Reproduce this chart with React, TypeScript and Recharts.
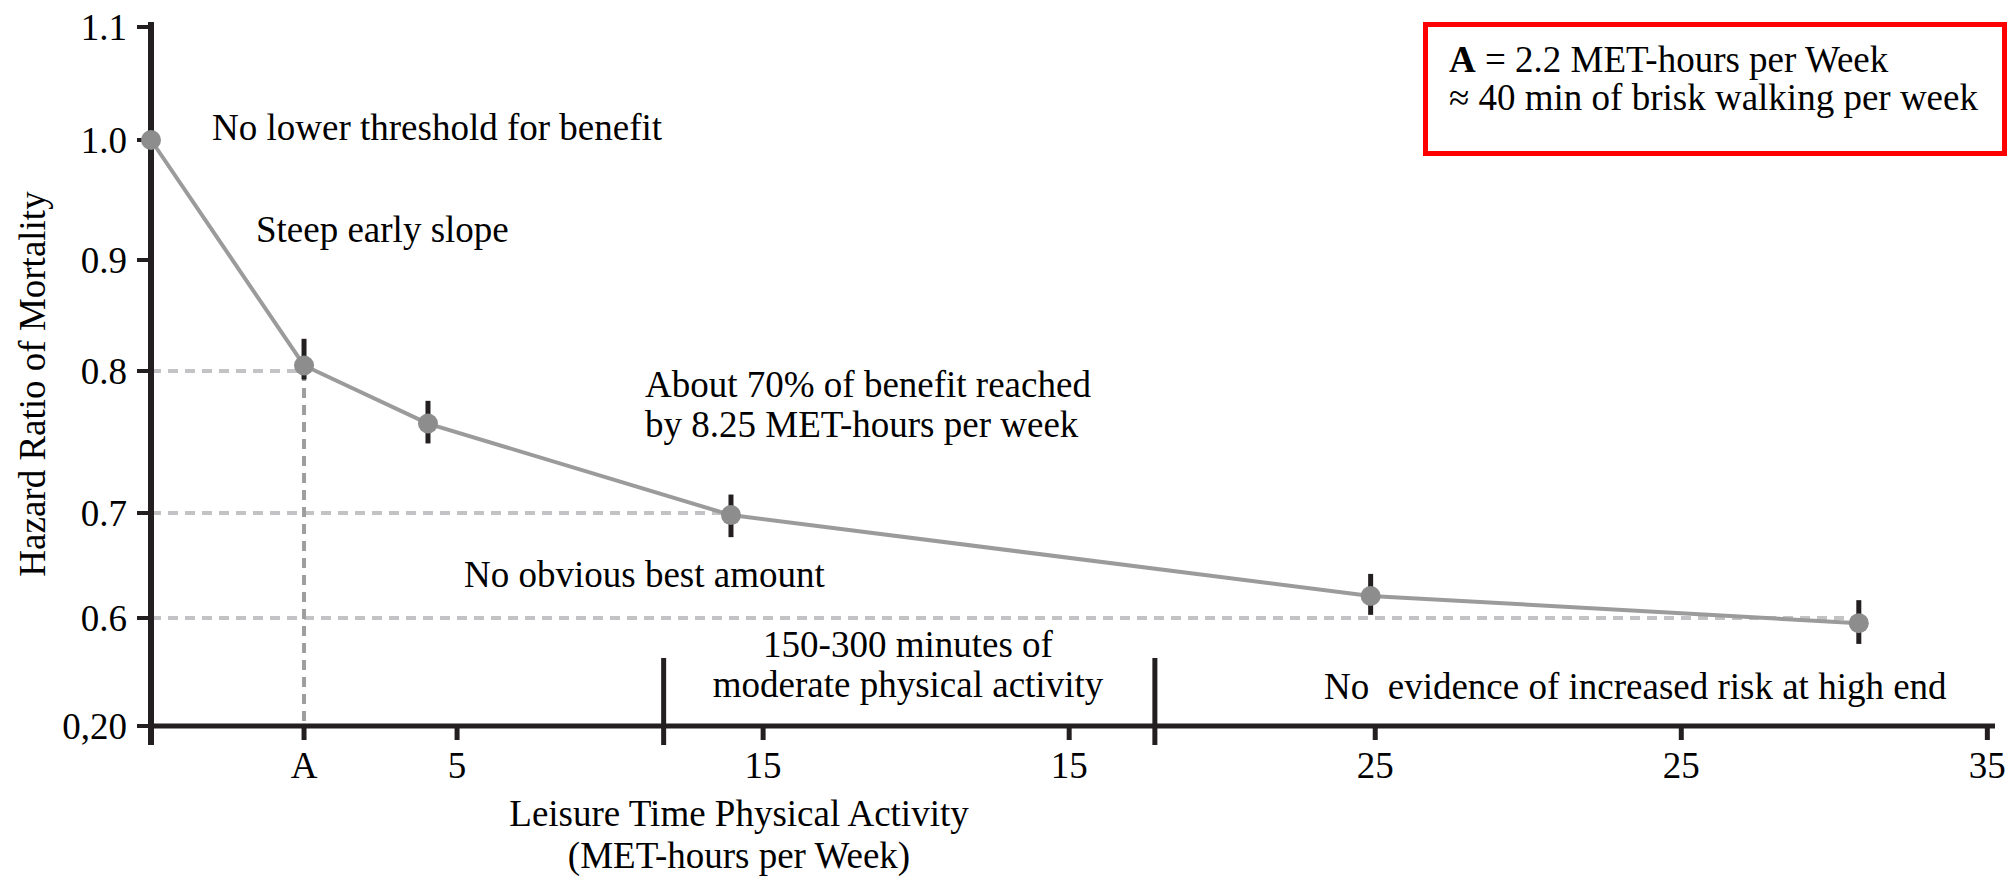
import React from "react";
import { LineChart, Line, XAxis, YAxis, ReferenceLine, ErrorBar } from "recharts";

// x axis: activity bins drawn on evenly spaced slots
const slotTicks = [0, 1, 2, 4, 6, 8, 10, 12];
const slotLabels = ["", "A", "5", "15", "15", "25", "25", "35"];

// y axis: hazard ratio ticks (axis is broken below 0.6)
const hrTicks = [0.2, 0.6, 0.7, 0.8, 0.9, 1.0, 1.1];
const hrTickLabels = ["0,20", "0.6", "0.7", "0.8", "0.9", "1.0", "1.1"];

// series
const activitySlot = [0, 1, 1.81, 3.79, 7.97, 11.16];
const hazardRatio = [1.0, 0.805, 0.763, 0.698, 0.621, 0.581];
const ciLower = [1.0, 0.794, 0.749, 0.677, 0.603, 0.504];
const ciUpper = [1.0, 0.829, 0.779, 0.713, 0.642, 0.617];

// dashed guides: level -> point they run to
const guideLevels = [0.8, 0.7, 0.6];
const guidePoint = [1, 3, 5];
// 150-300 minutes band edges (in slots)
const bandEdges = [3.35, 6.56];

// axis layout (spacing of the hand-drawn y ticks, px from the x axis)
const HR_TICK_OFFSETS = [0, 108, 213, 355, 466, 586, 699];
const HR_AXIS_MAX = 704;
const TICK_DROP = -19;
const BAND_TOP = 68;

const FONT = "'Liberation Serif', 'Times New Roman', serif";
const INK = "#231f20";

function toAxis(hr: number): number {
  let i = 0;
  while (i < hrTicks.length - 2 && hr > hrTicks[i + 1]) i++;
  const t = (hr - hrTicks[i]) / (hrTicks[i + 1] - hrTicks[i]);
  return HR_TICK_OFFSETS[i] + t * (HR_TICK_OFFSETS[i + 1] - HR_TICK_OFFSETS[i]);
}

const data = activitySlot.map((slot, i) => {
  const y = toAxis(hazardRatio[i]);
  return {
    slot,
    y,
    err: [y - toAxis(ciLower[i]), toAxis(ciUpper[i]) - y],
  };
});

const yTickValues = hrTicks.map(toAxis);

const xLabel = (v: number) => slotLabels[slotTicks.indexOf(v)] ?? "";
const yLabel = (v: number) => {
  const i = yTickValues.findIndex((t) => Math.abs(t - v) < 0.01);
  return i >= 0 ? hrTickLabels[i] : "";
};

const textStyle = { fontFamily: FONT, fontSize: 37, fill: "#000" };

export default function App() {
  return (
    <div
      style={{
        position: "absolute",
        left: 0,
        top: 0,
        width: 2010,
        height: 886,
        background: "#fff",
      }}
    >
      <LineChart
        width={2010}
        height={886}
        data={data}
        margin={{ top: 22, right: 15, bottom: 0, left: 0 }}
      >
        <XAxis
          dataKey="slot"
          type="number"
          domain={[0, 12.05]}
          ticks={slotTicks}
          interval={0}
          tickFormatter={xLabel}
          height={160}
          axisLine={{ stroke: INK, strokeWidth: 5 }}
          tickLine={{ stroke: INK, strokeWidth: 5 }}
          tickSize={14}
          tickMargin={12}
          tick={{ fontFamily: FONT, fontSize: 37, fill: "#000" }}
        />
        <YAxis
          type="number"
          domain={[0, HR_AXIS_MAX]}
          ticks={yTickValues}
          interval={0}
          tickFormatter={yLabel}
          width={151}
          axisLine={{ stroke: INK, strokeWidth: 6 }}
          tickLine={{ stroke: INK, strokeWidth: 4 }}
          tickSize={14}
          tickMargin={10}
          tick={{ fontFamily: FONT, fontSize: 37, fill: "#000" }}
        />

        {guideLevels.map((lvl, k) => (
          <ReferenceLine
            key={"h" + k}
            segment={[
              { x: 0, y: toAxis(lvl) },
              { x: activitySlot[guidePoint[k]], y: toAxis(lvl) },
            ]}
            stroke="#c3c3c5"
            strokeWidth={4}
            strokeDasharray="10 7"
            ifOverflow="visible"
          />
        ))}
        <ReferenceLine
          segment={[
            { x: activitySlot[1], y: toAxis(guideLevels[0]) },
            { x: activitySlot[1], y: TICK_DROP },
          ]}
          stroke="#9e9e9e"
          strokeWidth={4}
          strokeDasharray="10 7"
          ifOverflow="visible"
        />
        {/* y axis runs on past the x axis */}
        <ReferenceLine
          segment={[
            { x: 0, y: 0 },
            { x: 0, y: TICK_DROP },
          ]}
          stroke={INK}
          strokeWidth={6}
          ifOverflow="visible"
        />
        {bandEdges.map((x, k) => (
          <ReferenceLine
            key={"b" + k}
            segment={[
              { x, y: BAND_TOP },
              { x, y: TICK_DROP },
            ]}
            stroke={INK}
            strokeWidth={5}
            ifOverflow="visible"
          />
        ))}

        <Line
          type="linear"
          dataKey="y"
          stroke="#9b9b9b"
          strokeWidth={4}
          dot={{ r: 10, fill: "#8d8d8d", stroke: "none" }}
          activeDot={false}
          isAnimationActive={false}
        >
          <ErrorBar
            dataKey="err"
            direction="y"
            width={0}
            stroke={INK}
            strokeWidth={5}
          />
        </Line>
      </LineChart>

      <svg
        width={2010}
        height={886}
        style={{ position: "absolute", left: 0, top: 0, pointerEvents: "none" }}
      >
        <text {...textStyle} x={212} y={140}>No lower threshold for benefit</text>
        <text {...textStyle} x={256} y={242}>Steep early slope</text>
        <text {...textStyle} x={645} y={397}>About 70% of benefit reached</text>
        <text {...textStyle} x={645} y={437}>by 8.25 MET-hours per week</text>
        <text {...textStyle} x={464} y={587}>No obvious best amount</text>
        <text {...textStyle} x={908} y={657} textAnchor="middle">150-300 minutes of</text>
        <text {...textStyle} x={908} y={697} textAnchor="middle">moderate physical activity</text>
        <text {...textStyle} x={1324} y={699} style={{ whiteSpace: "pre" }}>
          {"No  evidence of increased risk at high end"}
        </text>

        <text {...textStyle} textAnchor="middle" transform="translate(45, 384) rotate(-90)">
          Hazard Ratio of Mortality
        </text>
        <text {...textStyle} x={739} y={826} textAnchor="middle">Leisure Time Physical Activity</text>
        <text {...textStyle} x={739} y={868} textAnchor="middle">(MET-hours per Week)</text>

        <rect x={1425.5} y={24.5} width={579} height={129} fill="#fff" stroke="#ff0000" strokeWidth={5} />
        <text {...textStyle} x={1449} y={72}>
          <tspan fontWeight="bold">A</tspan> = 2.2 MET-hours per Week
        </text>
        <text {...textStyle} x={1449} y={110}>≈ 40 min of brisk walking per week</text>
      </svg>
    </div>
  );
}
